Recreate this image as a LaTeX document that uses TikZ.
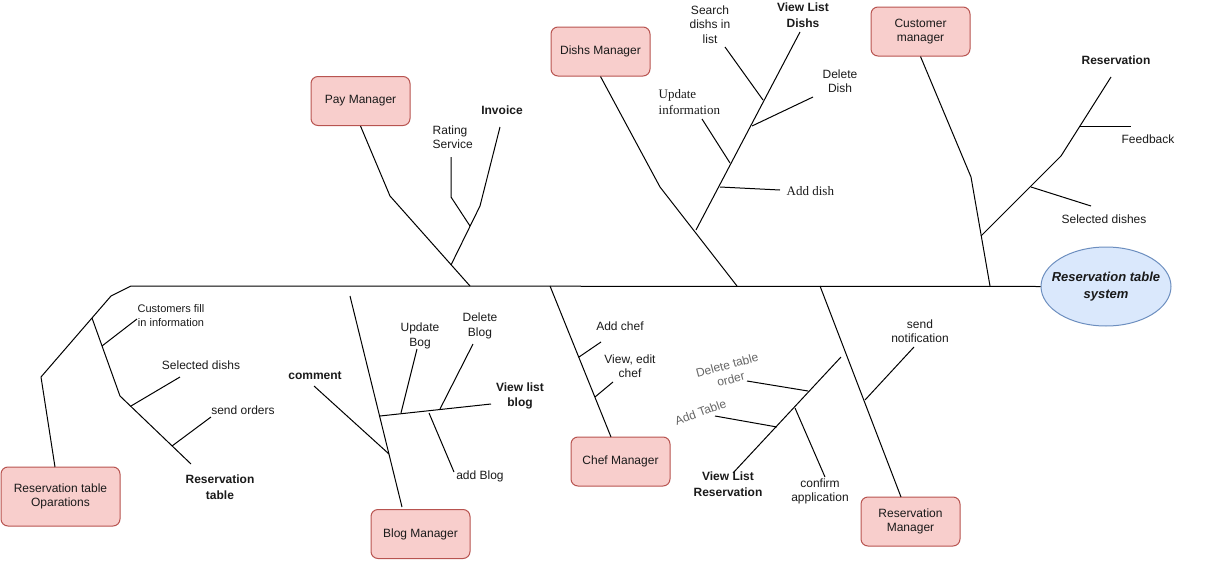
\documentclass[tikz,border=0pt]{standalone}
\usepackage{fontspec}
\setmainfont{Liberation Sans}
\newfontfamily\seriffam{Liberation Serif}
\usetikzlibrary{shapes.geometric}
\definecolor{boxfill}{HTML}{F8CECC}
\definecolor{boxline}{HTML}{B85450}
\definecolor{ellfill}{HTML}{DAE8FC}
\definecolor{ellline}{HTML}{6C8EBF}
\definecolor{txt}{HTML}{1A1A1A}
\definecolor{gtxt}{HTML}{666666}
\begin{document}
\begin{tikzpicture}[x=1pt,y=-1pt,
 bone/.style={line width=1pt, draw=black, line join=round},
 mgr/.style={draw=boxline, fill=boxfill, rounded corners=7pt, line width=1pt, minimum width=99pt, minimum height=49pt, align=center, text=txt, font=\fontsize{12}{14}\selectfont, inner sep=0pt},
 lbl/.style={align=center, inner sep=0pt, text=txt, font=\fontsize{12}{14.5}\selectfont},
 slbl/.style={lbl, font=\fontsize{11}{14}\selectfont},
 blbl/.style={lbl, font=\fontsize{12}{15.5}\selectfont\bfseries},
 serlbl/.style={lbl, font=\fontsize{13}{16}\selectfont\seriffam},
 glbl/.style={lbl, text=gtxt},
]
\useasboundingbox (0,0) rectangle (1211,562);

% ---------- nodes ----------
\node[mgr] (pay) at (360.5,101) {Pay Manager};
\node[mgr] (dish) at (600.5,51.5) {Dishs Manager};
\node[mgr] (cust) at (920.5,31.5) {Customer\\manager};
\node[mgr] (chef) at (620.5,461.5) {Chef Manager};
\node[mgr] (blog) at (420.5,534) {Blog Manager};
\node[mgr] (resm) at (910.5,521.5) {Reservation\\Manager};
\node[mgr, minimum width=119pt, minimum height=59pt] (ops) at (60.5,496.5) {Reservation table\\Oparations};
\node[ellipse, draw=ellline, fill=ellfill, line width=1pt, minimum width=130pt, minimum height=79pt, inner sep=0pt] (sys) at (1106,286.5) {};
\node[lbl, font=\fontsize{13}{17}\selectfont\bfseries\itshape] (t-sys) at (sys.center) {Reservation table\\system};

% ---------- spine ----------
\coordinate (s0) at (55,467);
\coordinate (s1) at (41,377);
\coordinate (s2) at (111,296);
\coordinate (s3) at (131,286);
\draw[bone] (s0) -- (s1) -- (s2) -- (s3) -- (sys.west);

% ---------- left: reservation table ----------
\coordinate (r0) at (92,318);
\coordinate (r1) at (120,396);
\coordinate (r2) at (191,464);
\draw[bone] (r0) -- (r1) -- (r2);
\coordinate (r3a) at (102,346); \coordinate (r3b) at (137,319);
\coordinate (r4a) at (131,406); \coordinate (r4b) at (180,377);
\coordinate (r5a) at (172,446); \coordinate (r5b) at (211,417);
\draw[bone] (r3a) -- (r3b);
\draw[bone] (r4a) -- (r4b);
\draw[bone] (r5a) -- (r5b);
\node[slbl] (t-custfill) at (171,316) {Customers fill\\in information};
\node[lbl] (t-seldishs) at (201,365) {Selected dishs};
\node[lbl] (t-sendord) at (243,410) {send orders};
\node[blbl] (t-restable) at (220,487) {Reservation\\table};

% ---------- pay manager ----------
\coordinate (p1) at (390,196);
\coordinate (p2) at (470,286);
\draw[bone] (pay.south) -- (p1) -- (p2);
\coordinate (pa) at (451,265);
\coordinate (pb) at (480,206);
\coordinate (pc) at (500,127);
\draw[bone] (pa) -- (pb) -- (pc);
\coordinate (pr0) at (451,157);
\coordinate (pr1) at (451,197);
\coordinate (pr2) at (470,226);
\draw[bone] (pr0) -- (pr1) -- (pr2);
\node[blbl] (t-invoice) at (502,110) {Invoice};
\node[lbl, anchor=west, align=left] (t-rating) at (432.5,137) {Rating\\Service};

% ---------- dishs manager ----------
\coordinate (d1) at (660,187);
\coordinate (d2) at (737,286);
\draw[bone] (dish.south) -- (d1) -- (d2);
\coordinate (da) at (696,230);
\coordinate (db) at (800,32);
\draw[bone] (da) -- (db);
\coordinate (ds0) at (725,47); \coordinate (ds1) at (763,100);
\coordinate (dd0) at (752,126); \coordinate (dd1) at (813,97);
\coordinate (du0) at (702,119); \coordinate (du1) at (730,163);
\coordinate (dad0) at (720,187); \coordinate (dad1) at (780,190);
\draw[bone] (ds0) -- (ds1);
\draw[bone] (dd0) -- (dd1);
\draw[bone] (du0) -- (du1);
\draw[bone] (dad0) -- (dad1);
\node[lbl] (t-search) at (710,24.5) {Search\\dishs in\\list};
\node[blbl] (t-viewdishs) at (803,15) {View List\\Dishs};
\node[lbl] (t-deldish) at (840,81) {Delete\\Dish};
\node[serlbl, anchor=west, align=left] (t-update) at (658.5,102) {Update\\information};
\node[serlbl, anchor=west] (t-adddish) at (786.5,191.5) {Add dish};

% ---------- customer manager ----------
\coordinate (c1) at (971,177);
\coordinate (c2) at (990,286);
\draw[bone] (cust.south) -- (c1) -- (c2);
\coordinate (ca) at (981,236);
\coordinate (cb) at (1061,156);
\coordinate (cc) at (1111,77);
\draw[bone] (ca) -- (cb) -- (cc);
\coordinate (cf0) at (1080,126); \coordinate (cf1) at (1131,126);
\coordinate (cs0) at (1031,187); \coordinate (cs1) at (1091,206);
\draw[bone] (cf0) -- (cf1);
\draw[bone] (cs0) -- (cs1);
\node[blbl] (t-reserv) at (1116,60) {Reservation};
\node[lbl] (t-feedback) at (1148,139.5) {Feedback};
\node[lbl] (t-seldishes) at (1104,219.5) {Selected dishes};

% ---------- blog manager ----------
\coordinate (b0) at (350,296);
\coordinate (b1) at (402,507);
\draw[bone] (b0) -- (b1);
\coordinate (bc0) at (314,386); \coordinate (bc1) at (389,454);
\coordinate (bv0) at (380,416); \coordinate (bv1) at (491,404);
\coordinate (bu0) at (401,413); \coordinate (bu1) at (417,349);
\coordinate (bd0) at (440,409); \coordinate (bd1) at (473,344);
\coordinate (ba0) at (429,413); \coordinate (ba1) at (454,472);
\draw[bone] (bc0) -- (bc1);
\draw[bone] (bv0) -- (bv1);
\draw[bone] (bu0) -- (bu1);
\draw[bone] (bd0) -- (bd1);
\draw[bone] (ba0) -- (ba1);
\node[blbl] (t-comment) at (315,376) {comment};
\node[blbl] (t-viewblog) at (520,396) {View list\\blog};
\node[lbl] (t-updblog) at (420,336) {Update\\Bog};
\node[lbl] (t-delblog) at (480,326) {Delete\\Blog};
\node[lbl] (t-addblog) at (480,476) {add Blog};

% ---------- chef manager ----------
\coordinate (h0) at (550,286);
\coordinate (h1) at (611,437);
\draw[bone] (h0) -- (h1);
\coordinate (ha0) at (579,357); \coordinate (ha1) at (601,342);
\coordinate (hv0) at (595,397); \coordinate (hv1) at (613,382);
\draw[bone] (ha0) -- (ha1);
\draw[bone] (hv0) -- (hv1);
\node[lbl] (t-addchef) at (620,326) {Add chef};
\node[lbl] (t-viewchef) at (630,366) {View, edit\\chef};

% ---------- view list reservation ----------
\coordinate (v0) at (733,473);
\coordinate (v1) at (841,357);
\draw[bone] (v0) -- (v1);
\coordinate (vd0) at (747,381); \coordinate (vd1) at (808,391);
\coordinate (vt0) at (715,416); \coordinate (vt1) at (777,427);
\coordinate (vc0) at (795,408); \coordinate (vc1) at (825,477);
\draw[bone] (vd0) -- (vd1);
\draw[bone] (vt0) -- (vt1);
\draw[bone] (vc0) -- (vc1);
\node[blbl] (t-viewres) at (728,484) {View List\\Reservation};
\node[glbl, rotate=15] (t-deltab) at (729,372) {Delete table\\order};
\node[glbl, rotate=20] (t-addtab) at (700.5,412) {Add Table};
\node[lbl] (t-confirm) at (820,491.5) {confirm\\application};

% ---------- reservation manager ----------
\coordinate (m0) at (820,286);
\coordinate (m1) at (901,497);
\draw[bone] (m0) -- (m1);
\coordinate (mn0) at (865,400); \coordinate (mn1) at (914,347);
\draw[bone] (mn0) -- (mn1);
\node[lbl] (t-sendnot) at (920,331) {send\\notification};
\end{tikzpicture}
\end{document}
